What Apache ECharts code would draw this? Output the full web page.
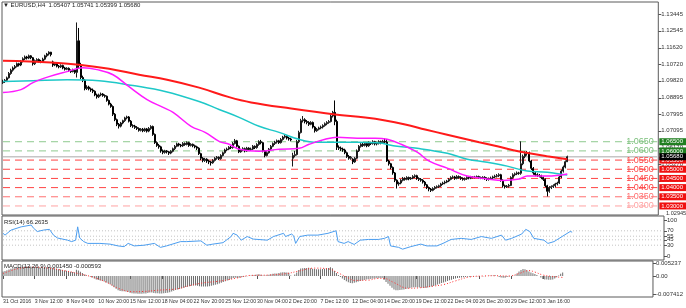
<!DOCTYPE html>
<html><head><meta charset="utf-8">
<script src="https://cdn.jsdelivr.net/npm/echarts@6/dist/echarts.min.js"></script>
<style>html,body{margin:0;padding:0;background:#fff}#c{width:686px;height:308px}</style>
</head><body><div id="c"></div>
<script>
// ---------- DATA ----------
// candles: [open, close, low, high], one per H4 bar from 31 Oct 2016 20:00
const candles = [
[1.0972,1.0978,1.0965,1.0988],
[1.0978,1.0985,1.0970,1.0992],[1.0985,1.0998,1.0980,1.1005],[1.0998,1.1022,1.0994,1.1030],[1.1022,1.1040,1.1015,1.1048],[1.1040,1.1052,1.1032,1.1060],[1.1052,1.1060,1.1045,1.1068],
[1.1060,1.1075,1.1055,1.1082],[1.1075,1.1068,1.1060,1.1080],[1.1068,1.1088,1.1062,1.1095],[1.1088,1.1102,1.1082,1.1110],[1.1102,1.1112,1.1095,1.1120],[1.1112,1.1106,1.1098,1.1118],
[1.1106,1.1118,1.1100,1.1125],[1.1118,1.1108,1.1100,1.1122],[1.1108,1.1075,1.1065,1.1112],[1.1075,1.1092,1.1068,1.1098],[1.1092,1.1098,1.1085,1.1105],[1.1098,1.1090,1.1082,1.1104],
[1.1090,1.1085,1.1078,1.1096],[1.1085,1.1100,1.1080,1.1108],[1.1100,1.1118,1.1094,1.1124],[1.1118,1.1128,1.1110,1.1134],[1.1128,1.1138,1.1120,1.1143],[1.1138,1.1125,1.1115,1.1140],
[1.1085,1.1068,1.1058,1.1092],[1.1068,1.1075,1.1062,1.1082],[1.1075,1.1062,1.1055,1.1080],[1.1062,1.1058,1.1050,1.1068],[1.1058,1.1065,1.1052,1.1072],[1.1065,1.1052,1.1045,1.1070],
[1.1052,1.1045,1.1038,1.1058],[1.1045,1.1050,1.1040,1.1056],[1.1050,1.1038,1.1030,1.1055],[1.1038,1.1032,1.1025,1.1044],[1.1032,1.1040,1.1028,1.1048],[1.1040,1.1028,1.1020,1.1045],
[1.1028,1.1200,1.1000,1.1300],[1.1200,1.1065,1.1050,1.1270],[1.1065,1.1000,1.0990,1.1080],[1.1000,1.0985,1.0975,1.1010],[1.0985,1.0940,1.0930,1.0992],[1.0940,1.0948,1.0932,1.0958],
[1.0948,1.0938,1.0930,1.0955],[1.0938,1.0932,1.0922,1.0945],[1.0932,1.0925,1.0915,1.0940],[1.0925,1.0905,1.0898,1.0930],[1.0905,1.0895,1.0885,1.0912],[1.0895,1.0905,1.0888,1.0912],
[1.0905,1.0910,1.0898,1.0918],[1.0910,1.0902,1.0895,1.0915],[1.0902,1.0898,1.0890,1.0908],[1.0898,1.0875,1.0868,1.0902],[1.0875,1.0855,1.0848,1.0880],[1.0855,1.0842,1.0835,1.0862],
[1.0842,1.0800,1.0790,1.0848],[1.0800,1.0770,1.0762,1.0806],[1.0770,1.0745,1.0735,1.0776],[1.0745,1.0735,1.0722,1.0752],[1.0735,1.0752,1.0728,1.0758],[1.0752,1.0765,1.0745,1.0770],
[1.0765,1.0780,1.0758,1.0786],[1.0780,1.0785,1.0772,1.0792],[1.0785,1.0762,1.0755,1.0790],[1.0762,1.0738,1.0730,1.0768],[1.0738,1.0735,1.0726,1.0745],[1.0735,1.0728,1.0720,1.0742],
[1.0728,1.0722,1.0714,1.0735],[1.0722,1.0712,1.0705,1.0728],[1.0712,1.0718,1.0706,1.0724],[1.0718,1.0710,1.0702,1.0725],[1.0710,1.0720,1.0704,1.0726],[1.0720,1.0708,1.0700,1.0725],
[1.0708,1.0722,1.0702,1.0730],[1.0722,1.0733,1.0715,1.0740],[1.0733,1.0690,1.0682,1.0738],[1.0690,1.0645,1.0638,1.0695],[1.0645,1.0630,1.0622,1.0652],[1.0630,1.0622,1.0612,1.0638],
[1.0622,1.0600,1.0590,1.0628],[1.0600,1.0592,1.0582,1.0608],[1.0592,1.0600,1.0585,1.0606],[1.0600,1.0595,1.0586,1.0605],[1.0595,1.0588,1.0578,1.0600],[1.0588,1.0598,1.0582,1.0604],
[1.0598,1.0612,1.0592,1.0618],[1.0612,1.0625,1.0605,1.0632],[1.0625,1.0638,1.0620,1.0645],[1.0638,1.0632,1.0624,1.0644],[1.0632,1.0628,1.0620,1.0638],[1.0628,1.0640,1.0622,1.0648],
[1.0640,1.0635,1.0628,1.0646],[1.0635,1.0645,1.0630,1.0652],[1.0645,1.0630,1.0622,1.0650],[1.0630,1.0636,1.0624,1.0642],[1.0636,1.0628,1.0620,1.0640],[1.0628,1.0622,1.0614,1.0634],
[1.0622,1.0615,1.0605,1.0628],[1.0615,1.0585,1.0578,1.0620],[1.0585,1.0560,1.0550,1.0590],[1.0560,1.0548,1.0538,1.0566],[1.0548,1.0555,1.0540,1.0562],[1.0555,1.0545,1.0535,1.0560],
[1.0545,1.0540,1.0528,1.0552],[1.0540,1.0535,1.0520,1.0546],[1.0535,1.0548,1.0530,1.0555],[1.0548,1.0560,1.0542,1.0566],[1.0560,1.0565,1.0552,1.0572],[1.0565,1.0558,1.0550,1.0570],
[1.0558,1.0575,1.0552,1.0582],[1.0575,1.0590,1.0570,1.0596],[1.0590,1.0605,1.0585,1.0612],[1.0605,1.0610,1.0598,1.0618],[1.0610,1.0620,1.0604,1.0626],[1.0620,1.0618,1.0610,1.0628],
[1.0618,1.0640,1.0612,1.0648],[1.0640,1.0655,1.0635,1.0665],[1.0655,1.0625,1.0618,1.0660],[1.0625,1.0595,1.0588,1.0630],[1.0595,1.0605,1.0590,1.0612],[1.0605,1.0612,1.0598,1.0620],
[1.0612,1.0600,1.0592,1.0618],[1.0600,1.0615,1.0595,1.0622],[1.0615,1.0608,1.0600,1.0620],[1.0608,1.0610,1.0600,1.0618],[1.0610,1.0625,1.0605,1.0632],[1.0625,1.0618,1.0610,1.0630],
[1.0618,1.0635,1.0612,1.0642],[1.0635,1.0650,1.0628,1.0658],[1.0650,1.0645,1.0636,1.0660],[1.0645,1.0600,1.0592,1.0650],[1.0600,1.0575,1.0565,1.0605],[1.0575,1.0590,1.0570,1.0598],
[1.0590,1.0610,1.0585,1.0616],[1.0610,1.0625,1.0604,1.0632],[1.0625,1.0640,1.0620,1.0646],[1.0640,1.0648,1.0632,1.0655],[1.0648,1.0655,1.0640,1.0662],[1.0655,1.0645,1.0638,1.0660],
[1.0645,1.0662,1.0640,1.0670],[1.0662,1.0675,1.0656,1.0682],[1.0675,1.0680,1.0668,1.0688],[1.0680,1.0670,1.0662,1.0686],[1.0670,1.0665,1.0656,1.0676],[1.0665,1.0660,1.0652,1.0672],
[1.0560,1.0575,1.0515,1.0590],[1.0575,1.0580,1.0565,1.0600],[1.0580,1.0650,1.0575,1.0660],[1.0650,1.0700,1.0642,1.0710],[1.0700,1.0765,1.0695,1.0775],[1.0765,1.0770,1.0755,1.0790],
[1.0770,1.0760,1.0750,1.0778],[1.0760,1.0755,1.0745,1.0768],[1.0755,1.0745,1.0736,1.0762],[1.0745,1.0755,1.0740,1.0762],[1.0755,1.0730,1.0722,1.0760],[1.0730,1.0710,1.0700,1.0735],
[1.0710,1.0718,1.0704,1.0725],[1.0718,1.0725,1.0712,1.0732],[1.0725,1.0730,1.0718,1.0738],[1.0730,1.0738,1.0722,1.0745],[1.0738,1.0748,1.0732,1.0755],[1.0748,1.0755,1.0740,1.0762],
[1.0755,1.0760,1.0748,1.0768],[1.0760,1.0790,1.0755,1.0798],[1.0790,1.0810,1.0782,1.0818],[1.0810,1.0760,1.0740,1.0875],[1.0760,1.0620,1.0605,1.0770],[1.0620,1.0615,1.0605,1.0630],
[1.0615,1.0610,1.0600,1.0624],[1.0610,1.0605,1.0595,1.0618],[1.0605,1.0590,1.0582,1.0612],[1.0590,1.0570,1.0562,1.0596],[1.0570,1.0560,1.0552,1.0578],[1.0560,1.0565,1.0552,1.0572],
[1.0555,1.0540,1.0528,1.0560],[1.0540,1.0560,1.0535,1.0566],[1.0560,1.0600,1.0555,1.0608],[1.0600,1.0625,1.0594,1.0632],[1.0625,1.0636,1.0618,1.0642],[1.0636,1.0630,1.0622,1.0644],
[1.0630,1.0640,1.0624,1.0648],[1.0640,1.0628,1.0620,1.0646],[1.0628,1.0645,1.0622,1.0652],[1.0645,1.0640,1.0632,1.0650],[1.0640,1.0650,1.0634,1.0658],[1.0650,1.0638,1.0630,1.0655],
[1.0638,1.0642,1.0630,1.0650],[1.0642,1.0650,1.0635,1.0658],[1.0650,1.0645,1.0636,1.0656],[1.0645,1.0652,1.0638,1.0660],[1.0652,1.0648,1.0640,1.0668],[1.0648,1.0545,1.0540,1.0665],
[1.0545,1.0530,1.0520,1.0552],[1.0530,1.0510,1.0500,1.0535],[1.0510,1.0480,1.0470,1.0515],[1.0480,1.0440,1.0430,1.0485],[1.0440,1.0420,1.0395,1.0445],[1.0420,1.0425,1.0410,1.0432],
[1.0425,1.0440,1.0418,1.0446],[1.0440,1.0450,1.0434,1.0458],[1.0450,1.0445,1.0438,1.0456],[1.0445,1.0455,1.0440,1.0462],[1.0455,1.0448,1.0440,1.0460],[1.0448,1.0452,1.0442,1.0458],
[1.0452,1.0460,1.0446,1.0468],[1.0460,1.0465,1.0452,1.0472],[1.0465,1.0450,1.0442,1.0470],[1.0450,1.0445,1.0436,1.0456],[1.0445,1.0440,1.0432,1.0452],[1.0440,1.0430,1.0422,1.0446],
[1.0430,1.0415,1.0406,1.0436],[1.0415,1.0400,1.0392,1.0420],[1.0400,1.0392,1.0380,1.0406],[1.0392,1.0385,1.0376,1.0398],[1.0385,1.0395,1.0380,1.0402],[1.0395,1.0402,1.0388,1.0408],
[1.0402,1.0405,1.0395,1.0412],[1.0405,1.0410,1.0398,1.0416],[1.0410,1.0420,1.0404,1.0426],[1.0420,1.0425,1.0414,1.0432],[1.0425,1.0430,1.0418,1.0438],[1.0430,1.0436,1.0424,1.0442],
[1.0436,1.0445,1.0430,1.0452],[1.0445,1.0455,1.0440,1.0462],[1.0455,1.0458,1.0448,1.0466],[1.0458,1.0450,1.0442,1.0464],[1.0450,1.0460,1.0445,1.0468],[1.0460,1.0455,1.0448,1.0466],
[1.0455,1.0450,1.0442,1.0462],[1.0450,1.0445,1.0438,1.0456],[1.0445,1.0448,1.0438,1.0455],[1.0448,1.0455,1.0442,1.0462],[1.0455,1.0452,1.0445,1.0460],[1.0452,1.0458,1.0446,1.0464],
[1.0458,1.0455,1.0450,1.0462],[1.0455,1.0458,1.0450,1.0464],[1.0458,1.0460,1.0452,1.0466],[1.0460,1.0455,1.0448,1.0465],[1.0455,1.0452,1.0446,1.0460],[1.0452,1.0456,1.0446,1.0462],
[1.0456,1.0450,1.0442,1.0462],[1.0450,1.0445,1.0436,1.0456],[1.0445,1.0448,1.0438,1.0455],[1.0448,1.0452,1.0442,1.0460],[1.0452,1.0458,1.0446,1.0465],[1.0458,1.0462,1.0450,1.0470],
[1.0462,1.0465,1.0455,1.0474],[1.0465,1.0470,1.0458,1.0478],[1.0470,1.0440,1.0432,1.0475],[1.0440,1.0410,1.0400,1.0445],[1.0410,1.0405,1.0395,1.0416],[1.0405,1.0408,1.0398,1.0414],
[1.0408,1.0412,1.0400,1.0420],[1.0412,1.0455,1.0408,1.0462],[1.0455,1.0470,1.0448,1.0478],[1.0470,1.0475,1.0462,1.0482],[1.0475,1.0480,1.0468,1.0488],[1.0480,1.0478,1.0470,1.0486],
[1.0478,1.0530,1.0470,1.0652],[1.0530,1.0570,1.0522,1.0580],[1.0570,1.0585,1.0560,1.0598],[1.0585,1.0590,1.0574,1.0600],[1.0590,1.0545,1.0538,1.0596],[1.0545,1.0505,1.0496,1.0550],
[1.0505,1.0480,1.0470,1.0512],[1.0480,1.0470,1.0462,1.0488],[1.0470,1.0468,1.0458,1.0478],
[1.0468,1.0465,1.0456,1.0474],[1.0465,1.0455,1.0446,1.0470],[1.0455,1.0445,1.0436,1.0460],[1.0445,1.0410,1.0402,1.0450],[1.0410,1.0380,1.0352,1.0415],[1.0380,1.0400,1.0372,1.0408],
[1.0400,1.0405,1.0392,1.0412],[1.0405,1.0410,1.0398,1.0418],[1.0410,1.0420,1.0402,1.0426],[1.0420,1.0425,1.0412,1.0432],[1.0425,1.0458,1.0420,1.0465],[1.0458,1.0490,1.0452,1.0498],
[1.0490,1.0512,1.0482,1.0520],[1.0512,1.0541,1.0505,1.0548],[1.05407,1.05680,1.05399,1.05741]
];
// Moving averages (bar index, value)
const redIdx  = [0,24,38,53,68,82,98,113,124,144,166,181,191,201,211,222,238,247,255,263,272,282];
const redVals = [1.1091,1.1082,1.1070,1.1048,1.1015,1.0988,1.0945,1.0893,1.0864,1.0831,1.0799,1.0782,1.0766,1.0744,1.0717,1.0688,1.0647,1.0625,1.0604,1.0587,1.0571,1.0555];
const cyanIdx  = [0,15,32,48,65,81,98,108,118,128,138,148,157,167,177,187,197,207,222,232,242,252,262,272,282];
const cyanVals = [1.0978,1.0983,1.0988,1.0983,1.0956,1.0924,1.0869,1.0826,1.0783,1.0734,1.0701,1.0663,1.0647,1.0647,1.0647,1.0644,1.0625,1.0614,1.0587,1.0555,1.0538,1.0517,1.0490,1.0484,1.0468];
const magIdx  = [0,9,15,23,32,40,47,55,63,72,80,85,94,101,108,113,118,128,138,148,153,161,167,177,186,192,199,207,213,222,232,242,250,258,262,272,282];
const magVals = [1.0918,1.0934,1.0972,1.1005,1.1032,1.1053,1.1043,1.1015,1.0950,1.0880,1.0837,1.0810,1.0734,1.0701,1.0652,1.0636,1.0609,1.0598,1.0609,1.0614,1.0636,1.0663,1.0674,1.0669,1.0669,1.0663,1.0636,1.0593,1.0544,1.0506,1.0463,1.0447,1.0439,1.0447,1.0463,1.0463,1.0474];
// RSI(14)
const rsiIdx  = [0,1,4,9,14,15,17,20,23,25,27,32,34,36,37,38,40,42,48,53,57,60,62,65,70,75,78,81,88,91,98,101,104,109,113,114,116,118,121,124,131,134,139,140,143,144,145,147,151,156,161,165,166,169,171,174,177,181,186,189,191,192,196,198,202,207,210,215,218,222,227,232,237,242,247,249,252,257,259,261,263,268,270,273,277,281,282];
const rsiVals = [63,58,72,81,86,78,68,72,74,58,50,44,40,44,81,50,40,35,35,33,28,26,35,28,30,35,24,28,40,40,42,30,33,37,54,63,58,44,54,47,44,54,63,54,61,56,35,54,58,58,63,70,40,35,40,32,44,46,46,49,54,28,24,19,26,33,28,28,35,46,49,46,54,49,58,44,49,61,74,68,49,44,35,40,54,68,66.26];
// MACD(12,26,9) histogram per bar, signal (bar index, value)
const macdHist = [
0.0018,0.0020,0.0023,0.0026,0.0029,0.0031,0.0033,0.0035,0.0036,0.0037,0.0038,0.0039,0.0039,
0.0040,0.0039,0.0037,0.0036,0.0036,0.0035,0.0034,0.0034,0.0035,0.0036,0.0037,0.0036,
0.0033,0.0031,0.0029,0.0027,0.0026,0.0024,0.0022,0.0021,0.0019,0.0017,0.0016,0.0014,
0.0025,0.0022,0.0017,0.0012,0.0006,0.0003,
0.0000,-0.0003,-0.0006,-0.0010,-0.0014,-0.0016,-0.0018,-0.0020,-0.0022,-0.0026,-0.0030,-0.0034,
-0.0040,-0.0046,-0.0052,-0.0058,-0.0061,-0.0062,-0.0062,-0.0063,-0.0065,-0.0068,-0.0070,-0.0071,
-0.0071,-0.0072,-0.0072,-0.0072,-0.0071,-0.0071,-0.0069,-0.0067,-0.0067,-0.0069,-0.0070,-0.0070,
-0.0071,-0.0071,-0.0070,-0.0069,-0.0068,-0.0066,-0.0063,-0.0060,-0.0057,-0.0055,-0.0053,-0.0050,
-0.0048,-0.0045,-0.0044,-0.0042,-0.0040,-0.0039,-0.0039,-0.0040,-0.0042,-0.0043,-0.0043,-0.0043,
-0.0043,-0.0042,-0.0040,-0.0038,-0.0036,-0.0034,-0.0031,-0.0028,-0.0024,-0.0021,-0.0018,-0.0016,
-0.0012,-0.0008,-0.0007,-0.0008,-0.0007,-0.0005,-0.0004,-0.0002,-0.0001,0.0000,0.0002,0.0003,
0.0004,0.0006,0.0007,0.0005,0.0002,0.0002,0.0003,0.0005,0.0007,0.0009,0.0010,0.0010,
0.0012,0.0014,0.0015,0.0015,0.0014,0.0013,
0.0002,0.0000,0.0006,0.0014,0.0024,0.0030,
0.0032,0.0033,0.0033,0.0034,0.0032,0.0029,0.0028,0.0027,0.0027,0.0027,0.0028,0.0029,
0.0030,0.0033,0.0036,0.0032,0.0020,0.0012,
0.0004,-0.0004,-0.0010,-0.0016,-0.0021,-0.0025,-0.0029,-0.0030,-0.0028,-0.0025,-0.0022,-0.0020,
-0.0018,-0.0016,-0.0014,-0.0013,-0.0012,-0.0011,-0.0010,-0.0009,-0.0008,-0.0008,-0.0008,
-0.0016,-0.0024,-0.0032,-0.0040,-0.0048,-0.0055,-0.0058,-0.0058,-0.0057,-0.0056,-0.0055,-0.0053,-0.0051,
-0.0049,-0.0047,-0.0046,-0.0046,-0.0046,-0.0047,-0.0048,-0.0049,-0.0048,-0.0047,-0.0045,-0.0043,
-0.0041,-0.0038,-0.0035,-0.0032,-0.0029,-0.0026,-0.0023,-0.0020,-0.0017,-0.0015,-0.0012,-0.0010,
-0.0008,-0.0007,-0.0006,-0.0005,-0.0004,-0.0003,-0.0003,-0.0002,-0.0002,-0.0001,-0.0001,0.0000,
0.0000,-0.0001,-0.0001,0.0000,0.0001,0.0002,0.0002,0.0003,0.0000,-0.0004,-0.0006,-0.0007,
-0.0007,-0.0004,-0.0002,0.0000,0.0001,0.0002,
0.0010,0.0018,0.0024,0.0028,0.0027,0.0023,
0.0018,0.0014,0.0011,0.0008,0.0004,0.0000,-0.0006,-0.0012,-0.0014,
-0.0014,-0.0015,-0.0015,-0.0014,-0.0010,-0.0005,0.0002,0.0009,0.00145
];
const sigIdx  = [0,4,9,15,23,32,38,45,52,58,65,71,78,88,94,101,108,113,118,124,134,143,149,157,164,169,174,177,184,189,192,197,204,210,217,222,228,235,242,248,255,260,265,268,272,277,282];
const sigVals = [0.0010,0.0022,0.0032,0.0036,0.0032,0.0020,0.0010,-0.0004,-0.0025,-0.0050,-0.0064,-0.0063,-0.0058,-0.0052,-0.0039,-0.0028,-0.0022,-0.0016,-0.0008,0.0002,0.0004,0.0010,0.0020,0.0032,0.0029,0.0012,-0.0008,-0.0018,-0.0017,-0.0010,-0.0010,-0.0027,-0.0050,-0.0048,-0.0041,-0.0035,-0.0020,-0.0004,0.0000,0.0001,0.0000,0.0010,0.0022,0.0016,0.0004,-0.0002,-0.000593];
// Horizontal levels
const greenLevels = [1.0650, 1.0600];
const redLevels = [1.0550, 1.0500, 1.0450, 1.0400, 1.0350, 1.0300];
const lastPrice = 1.05680;
// Tick labels
const priceTicks = [1.13445,1.12545,1.11620,1.10720,1.09820,1.08895,1.07995,1.07095,1.06170,1.05270,1.04370,1.03445];
const rsiTicks = [100,70,55,45,30,0];
const rsiLevels = [70,55,45,30];
const macdTicks = [0.005237, 0, -0.007412];
const timeLabels = ["31 Oct 2016","3 Nov 12:00","8 Nov 04:00","10 Nov 20:00","15 Nov 12:00","18 Nov 04:00","22 Nov 20:00","25 Nov 12:00","30 Nov 04:00","2 Dec 20:00","7 Dec 12:00","12 Dec 04:00","14 Dec 20:00","19 Dec 12:00","22 Dec 04:00","26 Dec 20:00","29 Dec 12:00","3 Jan 16:00"];
const BARS_PER_LABEL = 16;
const SLOTS = 328; // bar slots including right-side chart shift

// ---------- CHART ----------
const F = 'Liberation Sans, Arial, sans-serif';
const cats = Array.from({length: SLOTS}, (_, i) => i);
const pair = (idx, vals) => idx.map((k, j) => [k, vals[j]]);
const isTick = (i) => i % BARS_PER_LABEL === 0 && i / BARS_PER_LABEL < timeLabels.length;
const xBase = (g) => ({type:'category', gridIndex:g, data:cats, boundaryGap:true,
  axisLine:{show:false}, axisTick:{show:false}, axisLabel:{show:false}, splitLine:{show:false}});
const lab = {fontSize:6, color:'#333', fontFamily:F};
const gridStyle = {left:2, width:662, show:true, borderColor:'#5a5a5a', borderWidth:1, backgroundColor:'#fff'};

// a horizontal level drawn as a 2-point line across the price window
const levelSeries = (v, color, textColor, tagBg, dashed, showText) => ({
  type:'line', xAxisIndex:0, yAxisIndex:0, silent:true, z:3,
  symbol:'circle', symbolSize:1, showSymbol:true, itemStyle:{color:'rgba(0,0,0,0)'},
  label:{show:false},
  data:[[0, v], {value:[SLOTS-1, v],
      label:{show:showText, position:'left', distance:3, offset:[0,-5], formatter:v.toFixed(4), color:textColor, fontSize:9, fontFamily:F}}],
  lineStyle:{color, width: dashed ? 1 : 1.6, type: dashed ? [7,5] : 'solid'},
  endLabel:{show:true, formatter:v.toFixed(5), color:'#fff', backgroundColor:tagBg, fontSize:6, fontFamily:F, padding:[1,3,0,2], distance:2},
  labelLayout:{hideOverlap:false}
});

const series = [];
greenLevels.forEach(v => series.push(levelSeries(v, '#8fca8f', '#7cc07c', '#1f7f1f', true, true)));
redLevels.forEach((v,k) => {
  const c = k === redLevels.length-1 ? '#ffa3a3' : (k === redLevels.length-2 ? '#ff7070' : '#ff4444');
  series.push(levelSeries(v, c, c, '#f01010', true, true));
});
series.push(levelSeries(lastPrice, '#c6c6c6', '#c6c6c6', '#000', false, false));
series.push(
  {type:'candlestick', xAxisIndex:0, yAxisIndex:0, data:candles, barWidth:1.7, z:4,
    itemStyle:{color:'#555', color0:'#000', borderColor:'#1a1a1a', borderColor0:'#000', borderWidth:1}},
  {type:'line', xAxisIndex:0, yAxisIndex:0, z:5, data:pair(redIdx, redVals), smooth:0.4, symbol:'none', lineStyle:{color:'#ff1a1a', width:2}},
  {type:'line', xAxisIndex:0, yAxisIndex:0, z:5, data:pair(cyanIdx, cyanVals), smooth:0.4, symbol:'none', lineStyle:{color:'#1ec8c8', width:1.5}},
  {type:'line', xAxisIndex:0, yAxisIndex:0, z:5, data:pair(magIdx, magVals), smooth:0.4, symbol:'none', lineStyle:{color:'#ff1aff', width:1.5}},
  {type:'line', xAxisIndex:1, yAxisIndex:1, data:pair(rsiIdx, rsiVals), symbol:'none', lineStyle:{color:'#4c9ef0', width:1}},
  ...rsiLevels.map(v => ({type:'line', xAxisIndex:1, yAxisIndex:1, silent:true, symbol:'none', z:1,
      data:[[0,v],[SLOTS-1,v]], lineStyle:{color:'#c4c4c4', type:[1,2], width:1}})),
  {type:'bar', xAxisIndex:2, yAxisIndex:2, data:macdHist, barWidth:1, itemStyle:{color:'#6e6e6e'}},
  {type:'line', xAxisIndex:2, yAxisIndex:2, data:pair(sigIdx, sigVals), smooth:0.4, symbol:'none', lineStyle:{color:'#ff3030', width:1, type:[1,2]}}
);

const tStyle = {fontSize:6, fontWeight:'normal', color:'#222', fontFamily:F};
const option = {
  animation:false,
  backgroundColor:'#fff',
  title:[
    {text:'▼ EURUSD,H4  1.05407 1.05741 1.05399 1.05680', left:3, top:2, padding:0, textStyle:tStyle},
    {text:'RSI(14) 66.2635', left:4, top:219, padding:0, textStyle:tStyle},
    {text:'MACD(12,26,9) 0.001450 -0.000593', left:4, top:263, padding:0, textStyle:tStyle},
    {text:'1.02945', left:666, top:210, padding:0, textStyle:Object.assign({}, tStyle, {color:'#333', fontSize:5.6})}
  ],
  grid:[
    Object.assign({top:2, height:213}, gridStyle),
    Object.assign({top:216, height:44}, gridStyle),
    Object.assign({top:261, height:36}, gridStyle)
  ],
  xAxis:[ xBase(0), xBase(1),
    Object.assign(xBase(2), {
      axisTick:{show:true, interval:(i)=>isTick(i), alignWithLabel:true, length:3, lineStyle:{color:'#555'}},
      axisLabel:{show:true, interval:(i)=>isTick(i), formatter:(v)=>timeLabels[Number(v)/BARS_PER_LABEL],
        align:'left', margin:2, showMinLabel:true, showMaxLabel:true, hideOverlap:false, fontSize:5.2, color:'#333', fontFamily:F}
    })
  ],
  yAxis:[
    {type:'value', gridIndex:0, position:'right', min:1.02507, max:1.14115,
      axisLine:{show:false}, splitLine:{show:false},
      axisTick:{show:true, customValues:priceTicks, length:3, lineStyle:{color:'#555'}},
      axisLabel:{customValues:priceTicks, formatter:(v)=>v.toFixed(5), margin:3, ...lab}},
    {type:'value', gridIndex:1, position:'right', min:-11.1, max:111.1,
      axisLine:{show:false}, splitLine:{show:false},
      axisTick:{show:true, customValues:rsiTicks, length:3, lineStyle:{color:'#555'}},
      axisLabel:{customValues:rsiTicks, formatter:(v)=>String(v), margin:3, ...lab}},
    {type:'value', gridIndex:2, position:'right', min:-0.00855, max:0.0061,
      axisLine:{show:false}, splitLine:{show:false},
      axisTick:{show:true, customValues:macdTicks, length:3, lineStyle:{color:'#555'}},
      axisLabel:{customValues:macdTicks, formatter:(v)=> v===0 ? '0.00' : String(v), margin:3, ...lab}}
  ],
  series
};
const chart = echarts.init(document.getElementById('c'), null, {renderer:'canvas'});
chart.setOption(option);
</script>
</body></html>
